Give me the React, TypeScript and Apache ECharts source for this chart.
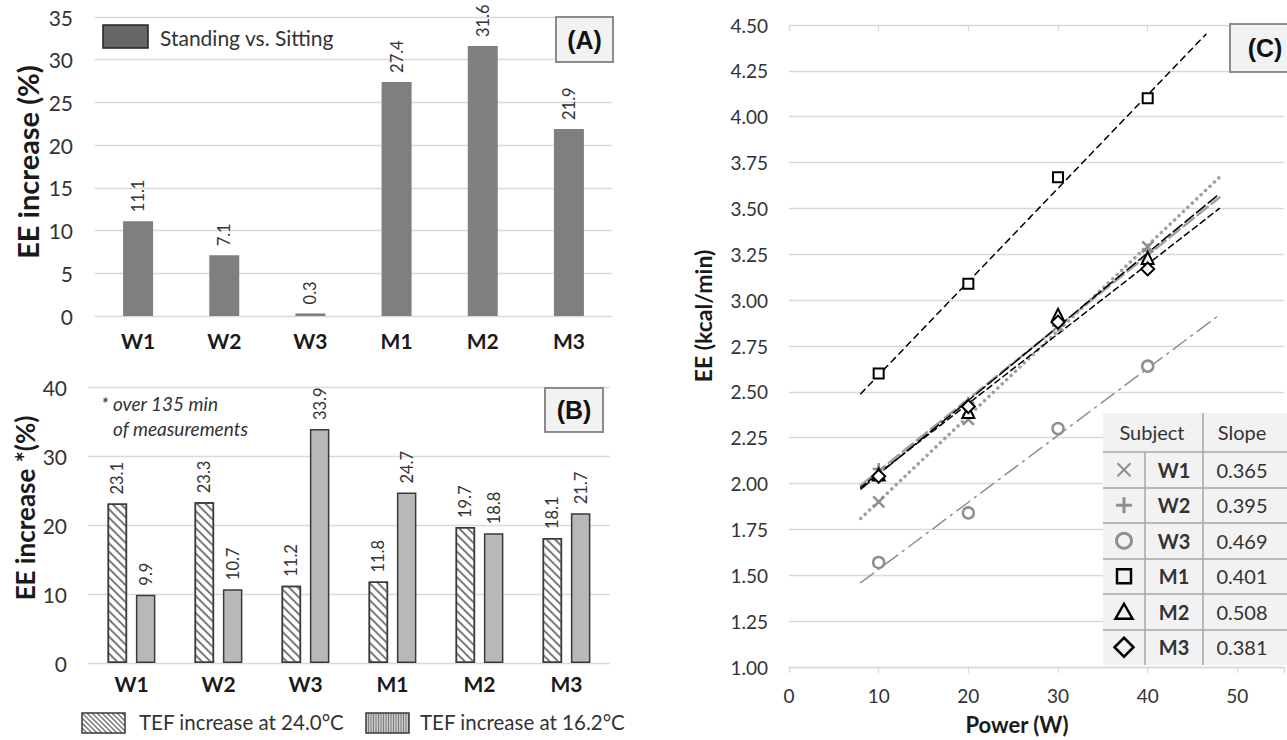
import React, { useEffect, useRef } from 'react';
import * as echarts from 'echarts';

// ---------- data ----------
const subjects = ['W1', 'W2', 'W3', 'M1', 'M2', 'M3'];
const standingVsSitting = [11.1, 7.1, 0.3, 27.4, 31.6, 21.9];
const tef24 = [23.1, 23.3, 11.2, 11.8, 19.7, 18.1];
const tef16 = [9.9, 10.7, 33.9, 24.7, 18.8, 21.7];

const powerW = [10, 20, 30, 40];
const eeW1 = [1.90, 2.35, 2.86, 3.29];
const eeW2 = [2.08, 2.44, 2.86, 3.27];
const eeW3 = [1.57, 1.84, 2.30, 2.64];
const eeM1 = [2.60, 3.09, 3.67, 4.10];
const eeM2 = [2.05, 2.39, 2.92, 3.23];
const eeM3 = [2.04, 2.42, 2.88, 3.17];
const slopes = ['0.365', '0.395', '0.469', '0.401', '0.508', '0.381'];

// trend line end points
const trendX = [[8, 48], [8, 48], [8, 48], [8, 46.5], [8, 48], [8, 48]];
const trendY = [[1.81, 3.67], [1.99, 3.56], [1.46, 2.92], [2.49, 4.45], [1.97, 3.58], [1.98, 3.50]];

const FONT = 'Lato, "Open Sans", sans-serif';
const ARIAL = '"Liberation Sans", Arial, sans-serif';
const GRAY = '#8f8f8f';
const TXT = '#333333';
const GRID = '#d9d9d9';

function hatch(x0: number, y0: number, w: number, h: number, step: number, color: string) {
  const els: any[] = [];
  for (let c = x0 - (y0 + h); c <= x0 + w - y0; c += step) {
    const xs = Math.max(x0, y0 + c);
    const xe = Math.min(x0 + w, y0 + h + c);
    if (xe - xs > 0.5) {
      els.push({ type: 'line', z: 100, shape: { x1: xs, y1: xs - c, x2: xe, y2: xe - c }, style: { stroke: color, lineWidth: 1.6 } });
    }
  }
  return els;
}

function vlines(x0: number, y0: number, w: number, h: number, step: number, color: string) {
  const els: any[] = [];
  for (let x = x0 + step; x < x0 + w; x += step) {
    els.push({ type: 'line', z: 100, shape: { x1: x, y1: y0, x2: x, y2: y0 + h }, style: { stroke: color, lineWidth: 0.8 } });
  }
  return els;
}

function labelBox(x: number, y: number, w: number, h: number, t: string) {
  return [
    { type: 'rect', z: 100, shape: { x, y, width: w, height: h }, style: { fill: '#f2f2f2', stroke: '#8c8c8c', lineWidth: 2 } },
    { type: 'text', z: 101, x: x + w / 2, y: y + h / 2, style: { text: t, align: 'center', verticalAlign: 'middle', fontFamily: ARIAL, fontWeight: 'bold', fontSize: 25, fill: '#111' } },
  ];
}

function buildTable() {
  const L = 1103, R = 1300, T = 413, B = 665, c1 = 1145, c2 = 1203;
  const rows = [452, 488, 523, 559, 594, 630];
  const lineC = '#a6a6a6';
  const els: any[] = [];
  els.push({ type: 'rect', z: 100, shape: { x: L, y: T, width: R - L, height: B - T }, style: { fill: '#f2f2f2' } });
  rows.forEach((y) => els.push({ type: 'line', z: 101, shape: { x1: L, y1: y, x2: R, y2: y }, style: { stroke: lineC, lineWidth: 1.5 } }));
  els.push({ type: 'line', z: 101, shape: { x1: c2, y1: T, x2: c2, y2: B }, style: { stroke: lineC, lineWidth: 1.5 } });
  els.push({ type: 'line', z: 101, shape: { x1: c1, y1: rows[0], x2: c1, y2: B }, style: { stroke: lineC, lineWidth: 1.5 } });
  const tx = (x: number, y: number, text: string, bold = false) => ({
    type: 'text', z: 102, x, y,
    style: { text, align: 'center', verticalAlign: 'middle', fontFamily: FONT, fontSize: 20, fontWeight: bold ? 'bold' : 'normal', fill: TXT },
  });
  els.push(tx(1152, 432, 'Subject'));
  els.push(tx(1242, 432, 'Slope'));
  const rowH = (B - rows[0]) / subjects.length;
  const mx = 1124;
  subjects.forEach((s, i) => {
    const cy = rows[0] + rowH * (i + 0.5);
    els.push(tx(1174, cy, s, true));
    els.push(tx(1242, cy, slopes[i]));
    const d = 6.5;
    if (i === 0) {
      els.push({ type: 'line', z: 102, shape: { x1: mx - d, y1: cy - d, x2: mx + d, y2: cy + d }, style: { stroke: GRAY, lineWidth: 2 } });
      els.push({ type: 'line', z: 102, shape: { x1: mx - d, y1: cy + d, x2: mx + d, y2: cy - d }, style: { stroke: GRAY, lineWidth: 2 } });
    } else if (i === 1) {
      els.push({ type: 'line', z: 102, shape: { x1: mx - 8, y1: cy, x2: mx + 8, y2: cy }, style: { stroke: GRAY, lineWidth: 3 } });
      els.push({ type: 'line', z: 102, shape: { x1: mx, y1: cy - 8, x2: mx, y2: cy + 8 }, style: { stroke: GRAY, lineWidth: 3 } });
    } else if (i === 2) {
      els.push({ type: 'circle', z: 102, shape: { cx: mx, cy, r: 7.5 }, style: { fill: 'none', stroke: GRAY, lineWidth: 3 } });
    } else if (i === 3) {
      els.push({ type: 'rect', z: 102, shape: { x: mx - 7, y: cy - 7, width: 14, height: 14 }, style: { fill: 'none', stroke: '#000', lineWidth: 2.5 } });
    } else if (i === 4) {
      els.push({ type: 'polygon', z: 102, shape: { points: [[mx, cy - 8], [mx + 8.5, cy + 7], [mx - 8.5, cy + 7]] }, style: { fill: 'none', stroke: '#000', lineWidth: 2.5 } });
    } else {
      els.push({ type: 'polygon', z: 102, shape: { points: [[mx, cy - 9.5], [mx + 9.5, cy], [mx, cy + 9.5], [mx - 9.5, cy]] }, style: { fill: 'none', stroke: '#000', lineWidth: 2.5 } });
    }
  });
  return els;
}

const pairs = (ys: number[]) => powerW.map((x, i) => [x, ys[i]]);
const trend = (i: number) => [[trendX[i][0], trendY[i][0]], [trendX[i][1], trendY[i][1]]];

const barLabel = {
  show: true, position: 'top', rotate: 90, align: 'left', verticalAlign: 'middle', distance: 9,
  fontSize: 16.5, color: TXT, fontFamily: FONT,
  formatter: (p: any) => Number(p.value).toFixed(1),
};

const catAxis = (gi: number, margin: number) => ({
  type: 'category', gridIndex: gi, data: subjects,
  axisLine: { show: false }, axisTick: { show: false },
  axisLabel: { margin, fontFamily: FONT, fontWeight: 'bold', fontSize: 21, color: '#1a1a1a' },
});

const valAxis = (gi: number, min: number, max: number, interval: number, fs: number, margin: number, fmt?: any) => ({
  type: 'value', gridIndex: gi, min, max, interval,
  axisLine: { show: false }, axisTick: { show: false },
  splitLine: { show: true, lineStyle: { color: GRID, width: 1.3 } },
  axisLabel: { fontFamily: FONT, fontSize: fs, color: TXT, margin, formatter: fmt },
});

const lineSeries = (i: number, color: string, width: number, type: any) => ({
  type: 'line', xAxisIndex: 2, yAxisIndex: 2, data: trend(i), showSymbol: false, symbol: 'none', z: 3,
  lineStyle: { color, width, type, cap: 'round' },
});

const scatterSeries = (ys: number[], symbol: string, size: number, stroke: string, bw: number) => ({
  type: 'scatter', xAxisIndex: 2, yAxisIndex: 2, data: pairs(ys), symbol, symbolSize: size, z: 5,
  itemStyle: { color: symbol.startsWith('path') ? 'none' : '#ffffff', borderColor: stroke, borderWidth: bw, opacity: 1 },
});

const option: any = {
  animation: false,
  backgroundColor: '#ffffff',
  textStyle: { fontFamily: FONT },
  grid: [
    { left: 95, top: 17, width: 517, height: 299 },
    { left: 88, top: 387, width: 522, height: 276 },
    { left: 789, top: 25, width: 498, height: 642 },
  ],
  xAxis: [
    catAxis(0, 14),
    catAxis(1, 10),
    {
      type: 'value', gridIndex: 2, min: 0, max: 55.2, interval: 10,
      axisLine: { show: true, lineStyle: { color: GRID, width: 1.3 } },
      axisTick: { show: true, length: 6, lineStyle: { color: GRID, width: 1.3 } },
      splitLine: { show: false },
      axisLabel: {
        fontFamily: FONT, fontSize: 19, color: TXT, margin: 19,
        formatter: (v: number) => (v <= 50 && Math.abs(v % 10) < 1e-6 ? String(v) : ''),
      },
    },
    {
      type: 'value', gridIndex: 2, min: 0, max: 55.2, interval: 10,
      axisLine: { show: false },
      axisTick: { show: true, inside: true, length: 6, lineStyle: { color: GRID, width: 1.3 } },
      splitLine: { show: false }, axisLabel: { show: false },
    },
  ],
  yAxis: [
    valAxis(0, 0, 35, 5, 21, 22),
    valAxis(1, 0, 40, 10, 21, 21),
    valAxis(2, 1, 4.5, 0.25, 19, 21, (v: number) => v.toFixed(2)),
  ],
  series: [
    {
      type: 'bar', xAxisIndex: 0, yAxisIndex: 0, data: standingVsSitting, barWidth: 30,
      itemStyle: { color: '#7f7f7f' }, label: barLabel,
    },
    {
      type: 'bar', xAxisIndex: 1, yAxisIndex: 1, data: tef24, barWidth: 19.5, barGap: '45%',
      itemStyle: {
        color: '#ffffff', borderColor: '#3a3a3a', borderWidth: 1.5,
        decal: { symbol: 'rect', symbolSize: 1, color: '#7a7a7a', backgroundColor: '#ffffff', dashArrayX: [1, 0], dashArrayY: [1.8, 3.2], rotation: Math.PI / 4 },
      },
      label: barLabel,
    },
    {
      type: 'bar', xAxisIndex: 1, yAxisIndex: 1, data: tef16, barWidth: 19.5, barGap: '45%',
      itemStyle: { color: '#b8b8b8', borderColor: '#3a3a3a', borderWidth: 1.5 },
      label: barLabel,
    },
    lineSeries(0, '#a0a0a0', 3.5, [0.1, 6]),
    lineSeries(1, '#a0a0a0', 2.5, [13, 5]),
    lineSeries(2, GRAY, 1.5, [16, 6, 2, 6]),
    lineSeries(3, '#000000', 1.5, [6, 5]),
    lineSeries(4, '#000000', 1.5, [11, 4]),
    lineSeries(5, '#000000', 1.5, [6, 4]),
    scatterSeries(eeW1, 'path://M0,0L10,10M10,0L0,10', 11, GRAY, 2.5),
    scatterSeries(eeW2, 'path://M5,0L5,10M0,5L10,5', 12, GRAY, 2.5),
    scatterSeries(eeW3, 'circle', 11, GRAY, 2.5),
    scatterSeries(eeM1, 'rect', 10, '#000000', 2),
    scatterSeries(eeM2, 'triangle', 12, '#000000', 2),
    scatterSeries(eeM3, 'diamond', 13, '#000000', 2),
  ],
  graphic: [
    ...labelBox(556, 17, 57, 45, '(A)'),
    ...labelBox(545, 388, 58, 44, '(B)'),
    ...labelBox(1230, 24, 70, 48, '(C)'),
    { type: 'rect', z: 100, shape: { x: 103, y: 25, width: 45, height: 23 }, style: { fill: '#666666', stroke: '#222', lineWidth: 1.5 } },
    { type: 'text', z: 100, x: 160, y: 37, style: { text: 'Standing vs. Sitting', align: 'left', verticalAlign: 'middle', fontFamily: FONT, fontSize: 21, fill: TXT } },
    { type: 'text', z: 100, x: 101, y: 403, style: { text: '* over 135 min', align: 'left', verticalAlign: 'middle', fontFamily: FONT, fontStyle: 'italic', fontSize: 19, fill: TXT } },
    { type: 'text', z: 100, x: 113, y: 428, style: { text: 'of measurements', align: 'left', verticalAlign: 'middle', fontFamily: FONT, fontStyle: 'italic', fontSize: 19, fill: TXT } },
    { type: 'rect', z: 100, shape: { x: 82, y: 713, width: 43, height: 20 }, style: { fill: '#ffffff' } },
    ...hatch(82, 713, 43, 20, 5, '#7a7a7a'),
    { type: 'rect', z: 101, shape: { x: 82, y: 713, width: 43, height: 20 }, style: { fill: 'none', stroke: '#3a3a3a', lineWidth: 1.5 } },
    { type: 'text', z: 100, x: 139, y: 722, style: { text: 'TEF increase at 24.0°C', align: 'left', verticalAlign: 'middle', fontFamily: FONT, fontSize: 20.5, fill: TXT } },
    { type: 'rect', z: 100, shape: { x: 366, y: 713, width: 43, height: 20 }, style: { fill: '#c8c8c8' } },
    ...vlines(366, 713, 43, 20, 2.5, '#6a6a6a'),
    { type: 'rect', z: 101, shape: { x: 366, y: 713, width: 43, height: 20 }, style: { fill: 'none', stroke: '#3a3a3a', lineWidth: 1.5 } },
    { type: 'text', z: 100, x: 420, y: 722, style: { text: 'TEF increase at 16.2°C', align: 'left', verticalAlign: 'middle', fontFamily: FONT, fontSize: 20.5, fill: TXT } },
    { type: 'text', z: 100, x: 27, y: 162, rotation: Math.PI / 2, style: { text: 'EE increase (%)', align: 'center', verticalAlign: 'middle', fontFamily: FONT, fontWeight: 'bold', fontSize: 29, fill: '#1a1a1a' } },
    { type: 'text', z: 100, x: 25, y: 508, rotation: Math.PI / 2, style: { text: 'EE increase *(%)', align: 'center', verticalAlign: 'middle', fontFamily: FONT, fontWeight: 'bold', fontSize: 26, fill: '#1a1a1a' } },
    { type: 'text', z: 100, x: 703, y: 316, rotation: Math.PI / 2, style: { text: 'EE (kcal/min)', align: 'center', verticalAlign: 'middle', fontFamily: FONT, fontWeight: 'bold', fontSize: 23, fill: '#1a1a1a' } },
    { type: 'text', z: 100, x: 1017, y: 724, style: { text: 'Power (W)', align: 'center', verticalAlign: 'middle', fontFamily: FONT, fontWeight: 'bold', fontSize: 22, fill: '#1a1a1a' } },
    ...buildTable(),
  ],
};

export default function App() {
  const ref = useRef<HTMLDivElement>(null);
  useEffect(() => {
    if (!ref.current) return;
    const chart = echarts.init(ref.current, null, { renderer: 'svg' });
    chart.setOption(option);
    return () => chart.dispose();
  }, []);
  return <div ref={ref} style={{ position: 'absolute', left: 0, top: 0, width: 1287, height: 740 }} />;
}
